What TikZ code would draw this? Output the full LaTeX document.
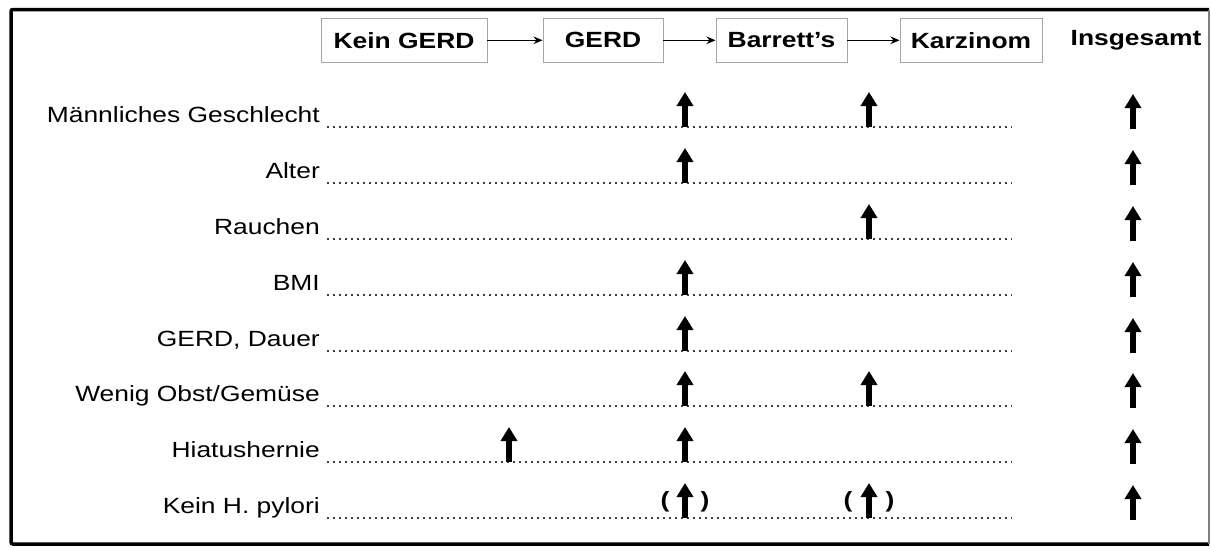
\documentclass[tikz,border=0pt]{standalone}
\usepackage{fontspec}
\setmainfont[FakeStretch=1.2]{Liberation Sans}
\usetikzlibrary{arrows.meta}
\begin{document}
\begin{tikzpicture}[x=1pt,y=-1pt,
  every node/.style={font=\fontsize{22}{26}\selectfont, inner sep=0pt},
  stage/.style={draw=gray!70, line width=0.9pt, minimum height=43.5pt, font=\fontsize{22}{26}\selectfont\bfseries},
  head/.style={font=\fontsize{22}{26}\selectfont\bfseries},
  flow/.style={line width=1.6pt, -{Stealth[length=9pt,width=7.5pt]}},
  leader/.style={line width=1.5pt, black!75, dash pattern=on 1.5pt off 4.5pt},
  uparrow/.style={line width=5.4pt, -{Triangle[length=14pt,width=16pt]}},
  lab/.style={anchor=base east},
  paren/.style={font=\fontsize{22}{26}\selectfont\bfseries, anchor=base}
]
\useasboundingbox (0,0) rectangle (1211,547);
% frame
\draw[line width=3.5pt, rounded corners=2pt] (1209,9.5) -- (11,9.5) -- (11,544) -- (1209,544);
\draw[gray, line width=1.5pt] (1209,9.5) -- (1209,544);
% header
\node[stage, minimum width=166pt] (kein) at (404,40.3) {Kein GERD};
\node[stage, minimum width=120pt] (gerd) at (603,40.3) {GERD};
\node[stage, minimum width=131pt] (barr) at (781.5,40.3) {Barrett’s};
\node[stage, minimum width=142pt] (karz) at (971,40.3) {Karzinom};
\node[head] (ins) at (1136,40.3) {Insgesamt};
\draw[flow] (kein) -- (gerd);
\draw[flow] (gerd) -- (barr);
\draw[flow] (barr) -- (karz);
% rows
\foreach \y/\t/\n in {127/{Männliches Geschlecht}/r1, 183/{Alter}/r2, 239/{Rauchen}/r3,
  295/{BMI}/r4, 351/{GERD, Dauer}/r5, 406/{Wenig Obst/Gemüse}/r6,
  462/{Hiatushernie}/r7, 518/{Kein H. pylori}/r8}{
  \node[lab] (\n) at (320,\y-5) {\t};
  \coordinate (\n a) at (327,\y);
  \coordinate (\n b) at (1012,\y);
  \draw[leader] (\n a) -- (\n b);
  \draw[uparrow] (1133,\y+2) -- (1133,\y-33);
}
% column arrows
\foreach \y in {127,183,295,351,406,462,518}{
  \draw[uparrow] (685,\y) -- (685,\y-35);
}
\foreach \y in {127,239,406,518}{
  \draw[uparrow] (869,\y) -- (869,\y-35);
}
\draw[uparrow] (509,462) -- (509,427);
% parentheses
\node[paren] (p1) at (665,507.5) {(};
\node[paren] (p2) at (705,507.5) {)};
\node[paren] (p3) at (848,507.5) {(};
\node[paren] (p4) at (890,507.5) {)};
\end{tikzpicture}
\end{document}
